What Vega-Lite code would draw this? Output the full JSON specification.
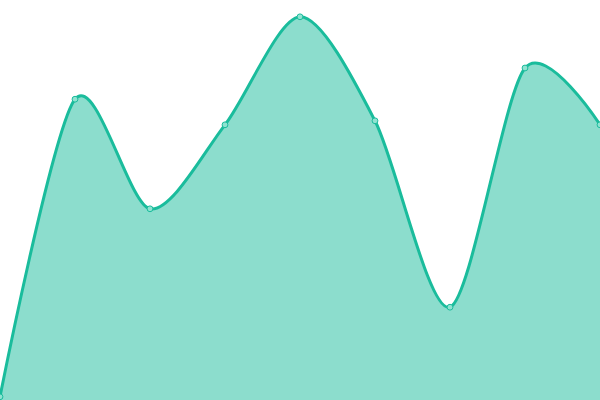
{
  "$schema": "https://vega.github.io/schema/vega-lite/v6.json",
  "width": 600,
  "height": 400,
  "autosize": {"type": "none"},
  "padding": 0,
  "view": {"stroke": null},
  "data": {
    "values": [
      {"i": 0, "v": 0.8},
      {"i": 1, "v": 75.2},
      {"i": 2, "v": 47.8},
      {"i": 3, "v": 68.8},
      {"i": 4, "v": 95.8},
      {"i": 5, "v": 69.8},
      {"i": 6, "v": 23.2},
      {"i": 7, "v": 83},
      {"i": 8, "v": 68.8}
    ]
  },
  "encoding": {
    "x": {"field": "i", "type": "quantitative", "scale": {"domain": [0, 8], "nice": false, "zero": false}, "axis": null},
    "y": {"field": "v", "type": "quantitative", "scale": {"domain": [0, 100], "nice": false}, "axis": null}
  },
  "layer": [
    {"mark": {"type": "area", "interpolate": "cardinal", "tension": 0.15, "color": "#1abc9c", "opacity": 0.5}},
    {"mark": {"type": "line", "interpolate": "cardinal", "tension": 0.15, "color": "#1abc9c", "strokeWidth": 3}},
    {"mark": {"type": "point", "filled": true, "size": 34, "fill": "#8fe3d1", "stroke": "#1abc9c", "strokeWidth": 1, "opacity": 1}}
  ]
}
